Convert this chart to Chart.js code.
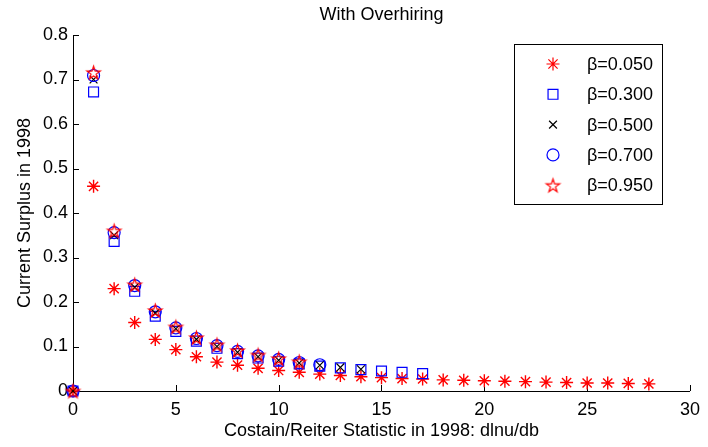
<!DOCTYPE html>
<html>
<head>
<meta charset="utf-8">
<script src="https://cdn.jsdelivr.net/npm/chart.js@4.4.1/dist/chart.umd.min.js"></script>
<style>
  html, body { margin: 0; padding: 0; background: #fff; }
  #wrap { width: 708px; height: 447px; position: relative; }
</style>
</head>
<body>
<div id="wrap"><canvas id="chart"></canvas></div>
<script>
// x positions (Costain/Reiter statistic) and tick labels
const statValues = [0, 1, 2, 3, 4, 5, 6, 7, 8, 9, 10, 11, 12, 13, 14, 15, 16, 17, 18, 19, 20, 21, 22, 23, 24, 25, 26, 27, 28];
const xTicks = [0, 5, 10, 15, 20, 25, 30];
const yTicks = [0, 0.1, 0.2, 0.3, 0.4, 0.5, 0.6, 0.7, 0.8];
const betaLabels = ['β=0.050', 'β=0.300', 'β=0.500', 'β=0.700', 'β=0.950'];

// current surplus, one list per beta
const surplus005 = [0, 0.460, 0.230, 0.154, 0.116, 0.093, 0.077, 0.065, 0.058, 0.051, 0.046, 0.042, 0.038, 0.035, 0.032,
                    0.030, 0.028, 0.027, 0.025, 0.024, 0.023, 0.022, 0.021, 0.020, 0.019, 0.018, 0.018, 0.017, 0.016];
const surplus030 = [0, 0.672, 0.336, 0.224, 0.168, 0.134, 0.112, 0.096, 0.084, 0.074, 0.067, 0.061, 0.056, 0.052, 0.048, 0.045, 0.042, 0.039];
const surplus050 = [0, 0.700, 0.350, 0.233, 0.175, 0.140, 0.116, 0.100, 0.087, 0.077, 0.069, 0.063, 0.058, 0.053, 0.049];
const surplus070 = [0, 0.709, 0.356, 0.237, 0.178, 0.142, 0.118, 0.102, 0.089, 0.079, 0.071, 0.064, 0.059];
const surplus095 = [0, 0.716, 0.360, 0.239, 0.181, 0.144, 0.120, 0.104, 0.091, 0.081, 0.073, 0.066];

const FONT = "'Liberation Sans', Arial, Helvetica, sans-serif";

function toPoints(values) {
    return values.map((v, i) => ({ x: statValues[i], y: v }));
}

// matlab-style pentagram outline as an image point style
function makePentagram(r, color, lw) {
    const size = Math.ceil(2 * r + 2 * lw + 2);
    const cv = document.createElement('canvas');
    cv.width = size;
    cv.height = size;
    const g = cv.getContext('2d');
    g.strokeStyle = color;
    g.lineWidth = lw;
    g.lineJoin = 'miter';
    g.beginPath();
    for (let i = 0; i < 10; i++) {
        const rr = i % 2 ? r * 0.382 : r;
        const a = -Math.PI / 2 + i * Math.PI / 5;
        const px = size / 2 + rr * Math.cos(a);
        const py = size / 2 + rr * Math.sin(a) + 0.8;
        if (i === 0) g.moveTo(px, py); else g.lineTo(px, py);
    }
    g.closePath();
    g.stroke();
    return cv;
}

const pentagram = makePentagram(7, '#ff0000', 1.2);

const seriesStyles = [
    { pointStyle: 'star', radius: 6.5, color: '#ff0000' },
    { pointStyle: 'rect', radius: 7, color: '#0000ff' },
    { pointStyle: 'crossRot', radius: 5.5, color: '#000000' },
    { pointStyle: 'circle', radius: 6, color: '#0000ff' },
    { pointStyle: pentagram, radius: 7, color: '#ff0000' },
];
const seriesData = [surplus005, surplus030, surplus050, surplus070, surplus095];

const datasets = seriesData.map((vals, i) => ({
    label: betaLabels[i],
    data: toPoints(vals),
    pointStyle: seriesStyles[i].pointStyle,
    pointRadius: seriesStyles[i].radius,
    pointHoverRadius: seriesStyles[i].radius,
    borderColor: seriesStyles[i].color,
    backgroundColor: 'rgba(0,0,0,0)',
    pointBorderWidth: i === 0 ? 1.4 : 1.2,
    showLine: false,
    clip: false,
    order: 5 - i,
}));

// axes lines with inward ticks, like matlab
const axesPlugin = {
    id: 'matlabAxes',
    beforeDatasetsDraw(chart) {
        const { ctx, chartArea: a, scales } = chart;
        ctx.save();
        ctx.strokeStyle = '#000';
        ctx.lineWidth = 1;
        ctx.beginPath();
        ctx.moveTo(a.left + 0.5, a.top);
        ctx.lineTo(a.left + 0.5, a.bottom + 0.5);
        ctx.lineTo(a.right, a.bottom + 0.5);
        xTicks.forEach(v => {
            const px = Math.round(scales.x.getPixelForValue(v)) + 0.5;
            ctx.moveTo(px, a.bottom);
            ctx.lineTo(px, a.bottom - 6);
        });
        yTicks.forEach(v => {
            const py = Math.round(scales.y.getPixelForValue(v)) + 0.5;
            ctx.moveTo(a.left, py);
            ctx.lineTo(a.left + 6, py);
        });
        ctx.stroke();
        ctx.restore();
    },
    afterDraw(chart) {
        const { ctx, chartArea: a } = chart;
        ctx.save();
        ctx.fillStyle = '#000';
        ctx.textAlign = 'center';
        ctx.textBaseline = 'alphabetic';
        ctx.font = '18px ' + FONT;
        ctx.fillText('With Overhiring', (a.left + a.right) / 2, 20);
        ctx.fillText('Costain/Reiter Statistic in 1998: dlnu/db', (a.left + a.right) / 2, 436);
        ctx.translate(30, (a.top + a.bottom) / 2);
        ctx.rotate(-Math.PI / 2);
        ctx.fillText('Current Surplus in 1998', 0, 0);
        ctx.restore();

        // legend box
        const lx = 514, ly = 44, lw = 148, lh = 160;
        ctx.save();
        ctx.fillStyle = '#fff';
        ctx.fillRect(lx, ly, lw, lh);
        ctx.strokeStyle = '#000';
        ctx.lineWidth = 1;
        ctx.strokeRect(lx + 0.5, ly + 0.5, lw, lh);
        ctx.font = '18px ' + FONT;
        ctx.textAlign = 'left';
        ctx.textBaseline = 'middle';
        betaLabels.forEach((label, i) => {
            const y = 64 + i * 30.3;
            const st = seriesStyles[i];
            ctx.strokeStyle = st.color;
            ctx.fillStyle = 'rgba(0,0,0,0)';
            ctx.lineWidth = 1.2;
            Chart.helpers.drawPoint(ctx, { pointStyle: st.pointStyle, radius: st.radius, rotation: 0, borderWidth: 1.2 }, 553, y);
            ctx.fillStyle = '#000';
            ctx.fillText(label, 587, y + 1);
        });
        ctx.restore();
    }
};

new Chart(document.getElementById('chart'), {
    type: 'scatter',
    data: { datasets },
    options: {
        animation: false,
        responsive: true,
        maintainAspectRatio: false,
        layout: { padding: { left: 0, right: 17, top: 35, bottom: 0 } },
        plugins: {
            legend: { display: false },
            tooltip: { enabled: false },
            title: { display: false },
        },
        scales: {
            x: {
                type: 'linear',
                min: 0,
                max: 30,
                afterBuildTicks: s => { s.ticks = xTicks.map(v => ({ value: v })); },
                afterFit: s => { s.height = 56; },
                grid: { display: false, drawTicks: false },
                border: { display: false },
                ticks: { padding: 8, color: '#000', maxRotation: 0, autoSkip: false, font: { family: FONT, size: 18 } },
            },
            y: {
                type: 'linear',
                min: 0,
                max: 0.8,
                afterBuildTicks: s => { s.ticks = yTicks.map(v => ({ value: v })); },
                afterFit: s => { s.width = 73; },
                grid: { display: false, drawTicks: false },
                border: { display: false },
                ticks: {
                    padding: 5, color: '#000', autoSkip: false, font: { family: FONT, size: 18 },
                    callback: v => (v === 0 ? '0' : v.toFixed(1)),
                },
            },
        },
    },
    plugins: [axesPlugin],
});
</script>
</body>
</html>
